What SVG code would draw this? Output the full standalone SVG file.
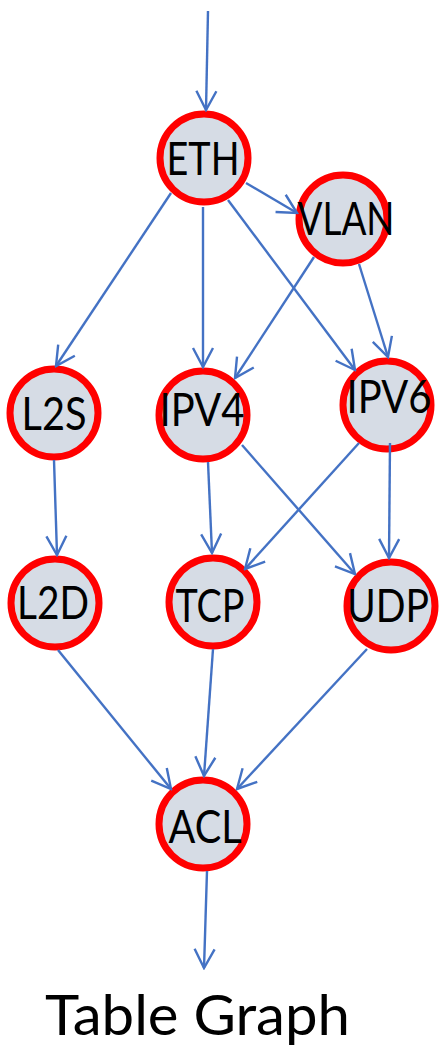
<svg xmlns="http://www.w3.org/2000/svg" width="444" height="1052" viewBox="0 0 444 1052">
  <defs>
    <style>
      .node circle { fill: #D6DCE5; stroke: #FF0000; stroke-width: 7; }
      .node text { font-family: Lato, "Open Sans", "Liberation Sans", sans-serif; font-size: 46px; fill: #000000; text-anchor: middle; }
      .edge { fill: none; stroke: #4472C4; stroke-width: 2.4; marker-end: url(#arrow); }
      .title { font-family: Lato, "Open Sans", "Liberation Sans", sans-serif; font-size: 57px; fill: #000000; }
    </style>
    <marker id="arrow" markerUnits="userSpaceOnUse" viewBox="-22 -12 24 24" refX="0" refY="0" markerWidth="24" markerHeight="24" orient="auto">
      <path d="M-19,-10 L0,0 L-19,10" fill="none" stroke="#4472C4" stroke-width="2.4" stroke-linejoin="miter"/>
    </marker>
  </defs>

  <rect width="444" height="1052" fill="#FFFFFF"/>

  <g id="node-eth" class="node">
    <circle cx="204" cy="158" r="44"/>
    <text x="203" y="175" textLength="73" lengthAdjust="spacingAndGlyphs">ETH</text>
  </g>
  <g id="node-vlan" class="node">
    <circle cx="343" cy="219" r="44"/>
    <text x="346" y="235" textLength="97" lengthAdjust="spacingAndGlyphs">VLAN</text>
  </g>
  <g id="node-l2s" class="node">
    <circle cx="54" cy="413" r="44"/>
    <text x="54" y="430" textLength="65" lengthAdjust="spacingAndGlyphs">L2S</text>
  </g>
  <g id="node-ipv4" class="node">
    <circle cx="203" cy="415" r="44"/>
    <text x="202" y="426" textLength="85" lengthAdjust="spacingAndGlyphs">IPV4</text>
  </g>
  <g id="node-ipv6" class="node">
    <circle cx="387" cy="405" r="44"/>
    <text x="389" y="413" textLength="85" lengthAdjust="spacingAndGlyphs">IPV6</text>
  </g>
  <g id="node-l2d" class="node">
    <circle cx="55" cy="603" r="44"/>
    <text x="53" y="619" textLength="72" lengthAdjust="spacingAndGlyphs">L2D</text>
  </g>
  <g id="node-tcp" class="node">
    <circle cx="213" cy="602" r="44"/>
    <text x="210" y="622" textLength="69" lengthAdjust="spacingAndGlyphs">TCP</text>
  </g>
  <g id="node-udp" class="node">
    <circle cx="391" cy="606" r="44"/>
    <text x="388" y="622" textLength="82" lengthAdjust="spacingAndGlyphs">UDP</text>
  </g>
  <g id="node-acl" class="node">
    <circle cx="203" cy="824" r="44"/>
    <text x="205" y="843" textLength="73" lengthAdjust="spacingAndGlyphs">ACL</text>
  </g>

  <g id="connectors">
    <line class="edge" x1="208" y1="11" x2="206" y2="110"/>
    <line class="edge" x1="246" y1="183" x2="297" y2="213"/>
    <line class="edge" x1="171" y1="193" x2="56" y2="366"/>
    <line class="edge" x1="203" y1="207" x2="203" y2="367"/>
    <line class="edge" x1="228" y1="200" x2="355" y2="370"/>
    <line class="edge" x1="314" y1="257" x2="235" y2="378"/>
    <line class="edge" x1="359" y1="264" x2="388" y2="357"/>
    <line class="edge" x1="54" y1="460" x2="57" y2="555"/>
    <line class="edge" x1="208" y1="462" x2="212" y2="553"/>
    <line class="edge" x1="242" y1="445" x2="355" y2="574"/>
    <line class="edge" x1="359" y1="443" x2="245" y2="569"/>
    <line class="edge" x1="390" y1="443" x2="389" y2="558"/>
    <line class="edge" x1="58" y1="650" x2="171" y2="789"/>
    <line class="edge" x1="213" y1="649" x2="204" y2="776"/>
    <line class="edge" x1="367" y1="649" x2="237" y2="789"/>
    <line class="edge" x1="207" y1="871" x2="204" y2="968"/>
  </g>

  <text class="title" x="45" y="1035" textLength="305" lengthAdjust="spacingAndGlyphs">Table Graph</text>
</svg>
